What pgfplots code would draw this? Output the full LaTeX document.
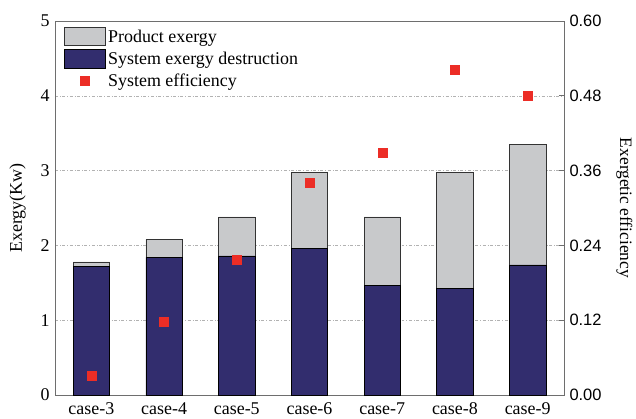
\documentclass[border=0pt]{standalone}
\usepackage{fontspec}
\setmainfont{Liberation Serif}
\newfontfamily\arial{Liberation Sans}
\usepackage{pgfplots}
\pgfplotsset{compat=1.18}
\definecolor{navy}{RGB}{50,45,110}
\definecolor{lgray}{RGB}{200,201,203}
\definecolor{effred}{RGB}{236,45,38}
\definecolor{axgray}{RGB}{110,110,110}
\begin{document}
\begin{tikzpicture}
\begin{axis}[
  scale only axis, width=509bp, height=374bp,
  xmin=-0.5, xmax=6.5, ymin=0, ymax=5,
  xtick={0,1,2,3,4,5,6},
  xticklabels={case-3,case-4,case-5,case-6,case-7,case-8,case-9},
  ytick={0,1,2,3,4,5},
  /pgf/number format/assume math mode=true,
  axis line style={axgray, line width=0.9pt},
  major tick length=0pt,
  ymajorgrids, grid style={gray!60, dash dot, line width=0.5pt},
  ybar stacked, bar width=0.5,
  tick label style={font=\fontsize{18}{20}\selectfont, text=black},
  xticklabel style={yshift=-4bp},
  yticklabel style={xshift=-2bp},
  ylabel={Exergy(Kw)}, ylabel style={font=\fontsize{18}{20}\selectfont, yshift=8bp},
  legend style={draw=none, fill=none, at={(0.018,0.985)}, anchor=north west,
    font=\fontsize{18}{20}\selectfont, row sep=3bp, inner sep=0pt,
    cells={anchor=west}},
  legend cell align=left,
  clip=false,
]
\addplot[fill=navy, draw=black, line width=0.6pt, forget plot] coordinates {(0,1.72) (1,1.84) (2,1.86) (3,1.96) (4,1.46) (5,1.42) (6,1.74)};
\addplot[fill=lgray, draw=black!80, line width=0.6pt, forget plot] coordinates {(0,0.06) (1,0.24) (2,0.52) (3,1.02) (4,0.92) (5,1.56) (6,1.61)};
\addlegendimage{legend image code/.code={\draw[fill=lgray, draw=black!80, line width=0.8pt] (0bp,-8.5bp) rectangle (41bp,9.5bp);}}
\addlegendentry{Product exergy}
\addlegendimage{legend image code/.code={\draw[fill=navy, draw=black, line width=0.8pt] (0bp,-9.5bp) rectangle (41bp,9.5bp);}}
\addlegendentry{System exergy destruction}
\addlegendimage{legend image code/.code={\fill[effred] (15.5bp,-4.5bp) rectangle (24.5bp,4.5bp);}}
\addlegendentry{System efficiency}
\end{axis}
\begin{axis}[
  scale only axis, width=509bp, height=374bp,
  xmin=-0.5, xmax=6.5, ymin=0, ymax=0.6,
  axis x line=none,
  axis y line*=right,
  axis line style={axgray, line width=0.9pt},
  ytick={0,0.12,0.24,0.36,0.48,0.60},
  yticklabel style={/pgf/number format/fixed, /pgf/number format/fixed zerofill, /pgf/number format/precision=2, font=\arial\fontsize{16.5}{19}\selectfont, xshift=2bp},
  /pgf/number format/assume math mode=true,
  tick align=inside, major tick length=5bp, tick style={axgray, line width=0.9pt},
  ylabel={Exergetic efficiency},
  ylabel style={rotate=180, font=\fontsize{17.5}{20}\selectfont, yshift=8bp},
  clip=false,
]
\addplot[only marks, mark=square*, mark size=4.5bp, mark options={fill=effred, draw=effred}] coordinates {(0,0.031) (1,0.118) (2,0.217) (3,0.341) (4,0.389) (5,0.522) (6,0.480)};
\end{axis}
\pgfresetboundingbox
\path (current axis.south west) ++(-55bp,-24bp) coordinate (bbA);
\path (current axis.north east) ++(72bp,21bp) coordinate (bbB);
\useasboundingbox (bbA) rectangle (bbB);
\end{tikzpicture}
\end{document}
